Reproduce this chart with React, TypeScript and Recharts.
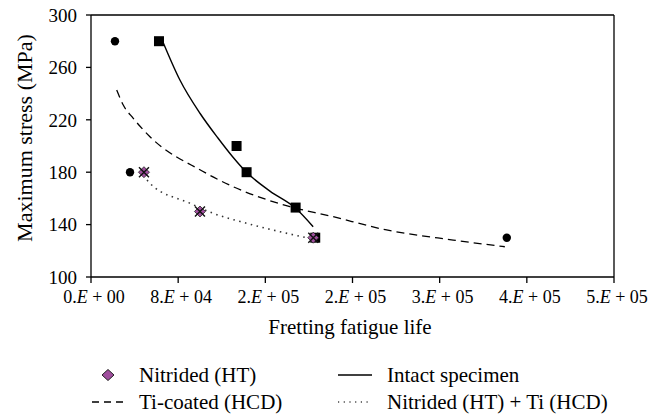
import React from 'react'
import { ScatterChart, Scatter, XAxis, YAxis, ReferenceLine } from 'recharts'

// ─── Data ─────────────────────────────────────────────────────────────────────

const xTicks = [0, 80000, 160000, 240000, 320000, 400000, 480000]
const xTickLabels = ['0.E + 00', '8.E + 04', '2.E + 05', '2.E + 05', '3.E + 05', '4.E + 05', '5.E + 05']
const yTicks = [100, 140, 180, 220, 260, 300]

// measured points
const tiCoatedLife = [22000, 35800, 381600]
const tiCoatedStress = [280, 180, 130]

const intactLife = [62400, 133600, 142800, 187800, 205800]
const intactStress = [280, 200, 180, 153, 130]

const nitridedLife = [48600, 100000, 204000]
const nitridedStress = [180, 150, 130]

// trend lines
const intactFitLife = [66300, 81600, 100000, 116500, 129400, 142800, 164200, 188100, 203900]
const intactFitStress = [278.9, 250.4, 225.0, 206.1, 192.4, 179.9, 165.6, 152.3, 138.4]

const tiFitLife = [23600, 29600, 38800, 54100, 101600, 130500, 182600, 219300, 271300, 332400, 379800]
const tiFitStress = [242.7, 231.3, 221.1, 207.1, 181.1, 168.9, 153.7, 146.6, 135.9, 128.2, 123.1]

const nitTiFitLife = [51400, 54100, 90800, 112200, 142800, 173400, 200900]
const nitTiFitStress = [174.0, 171.5, 156.3, 148.6, 141.0, 134.6, 129.4]

// ─── Helpers ─────────────────────────────────────────────────────────────────

const FONT = "'Liberation Serif', 'Times New Roman', 'DejaVu Serif', serif"
const PURPLE = '#a04f9e'

const zip = (xs: number[], ys: number[]) => xs.map((x, i) => ({ x, y: ys[i] }))

const Hidden = () => <g />

const Circle = (p: any) => <circle cx={p.cx} cy={p.cy} r={4.2} fill="#000" />

const Square = (p: any) => <rect x={p.cx - 5} y={p.cy - 5} width={10} height={10} fill="#000" />

const NitridedMark = (p: any) => {
  const { cx, cy } = p
  return (
    <g>
      <path d={`M${cx} ${cy - 5.5} L${cx + 5.5} ${cy} L${cx} ${cy + 5.5} L${cx - 5.5} ${cy} Z`} fill={PURPLE} stroke="#222" strokeWidth={0.8} />
      <path d={`M${cx - 5} ${cy - 5} L${cx + 5} ${cy + 5} M${cx + 5} ${cy - 5} L${cx - 5} ${cy + 5}`} stroke="#111" strokeWidth={1.4} />
    </g>
  )
}

const XTick = (p: any) => {
  const idx = xTicks.indexOf(p.payload.value)
  const label = xTickLabels[idx] ?? ''
  const [mant, rest] = label.split('E')
  return (
    <text x={p.x + 3} y={p.y + 18} textAnchor="middle" style={{ fontFamily: FONT }} fontSize={18} fill="#000">
      <tspan>{mant}</tspan>
      <tspan fontStyle="italic">E</tspan>
      <tspan>{rest}</tspan>
    </text>
  )
}

// ─── Component ────────────────────────────────────────────────────────────────

export default function App() {
  const text: React.CSSProperties = { position: 'absolute', fontFamily: FONT, fontSize: 21, color: '#000', whiteSpace: 'nowrap', lineHeight: '24px' }

  return (
    <div style={{ position: 'absolute', left: 0, top: 0, width: 660, height: 415, background: '#fff', fontFamily: FONT }}>
      <ScatterChart width={660} height={415} margin={{ top: 15, right: 46, bottom: 98, left: 0 }} style={{ fontFamily: FONT }}>
        <XAxis
          type="number"
          dataKey="x"
          domain={[0, 480000]}
          ticks={xTicks}
          tick={<XTick />}
          tickSize={6}
          height={40}
          stroke="#000"
          strokeWidth={1.3}
          allowDataOverflow
        />
        <YAxis
          type="number"
          dataKey="y"
          domain={[100, 300]}
          ticks={yTicks}
          width={91}
          tickSize={5}
          tickMargin={9}
          stroke="#000"
          strokeWidth={1.3}
          tick={{ style: { fontFamily: FONT }, fontSize: 19, fill: '#000' }}
          allowDataOverflow
        />
        <ReferenceLine y={300} stroke="#000" strokeWidth={1.3} />
        <ReferenceLine x={480000} stroke="#000" strokeWidth={1.3} />

        <Scatter data={zip(tiFitLife, tiFitStress)} fill="#000" shape={Hidden} line={{ strokeWidth: 1.3, strokeDasharray: '8 5' }} lineJointType="monotoneX" isAnimationActive={false} />
        <Scatter data={zip(intactFitLife, intactFitStress)} fill="#000" shape={Hidden} line={{ strokeWidth: 1.4 }} lineJointType="monotoneX" isAnimationActive={false} />
        <Scatter data={zip(nitTiFitLife, nitTiFitStress)} fill="#333" shape={Hidden} line={{ strokeWidth: 1.6, strokeDasharray: '1.5 4.5' }} lineJointType="monotoneX" isAnimationActive={false} />

        <Scatter data={zip(tiCoatedLife, tiCoatedStress)} fill="#000" shape={Circle} isAnimationActive={false} />
        <Scatter data={zip(intactLife, intactStress)} fill="#000" shape={Square} isAnimationActive={false} />
        <Scatter data={zip(nitridedLife, nitridedStress)} fill={PURPLE} shape={NitridedMark} isAnimationActive={false} />
      </ScatterChart>

      {/* axis titles */}
      <div style={{ ...text, left: 350, top: 315, transform: 'translateX(-50%)' }}>Fretting fatigue life</div>
      <div style={{ ...text, fontSize: 22, left: 25, top: 138, transform: 'translate(-50%, -50%) rotate(-90deg)' }}>Maximum stress (MPa)</div>

      {/* legend */}
      <svg style={{ position: 'absolute', left: 0, top: 360 }} width={400} height={55}>
        <path d="M108 9.5 L114 15 L108 20.5 L102 15 Z" fill={PURPLE} stroke="#222" strokeWidth={1} />
        <line x1={92} y1={42} x2={126} y2={42} stroke="#000" strokeWidth={1.4} strokeDasharray="7 5" />
        <line x1={338} y1={15} x2={372} y2={15} stroke="#000" strokeWidth={1.4} />
        <line x1={338} y1={42} x2={372} y2={42} stroke="#444" strokeWidth={1.3} strokeDasharray="1.2 4.5" />
      </svg>
      <div style={{ ...text, left: 139, top: 363 }}>Nitrided (HT)</div>
      <div style={{ ...text, left: 139, top: 390 }}>Ti-coated (HCD)</div>
      <div style={{ ...text, left: 387, top: 363 }}>Intact specimen</div>
      <div style={{ ...text, left: 387, top: 390 }}>Nitrided (HT) + Ti (HCD)</div>
    </div>
  )
}
